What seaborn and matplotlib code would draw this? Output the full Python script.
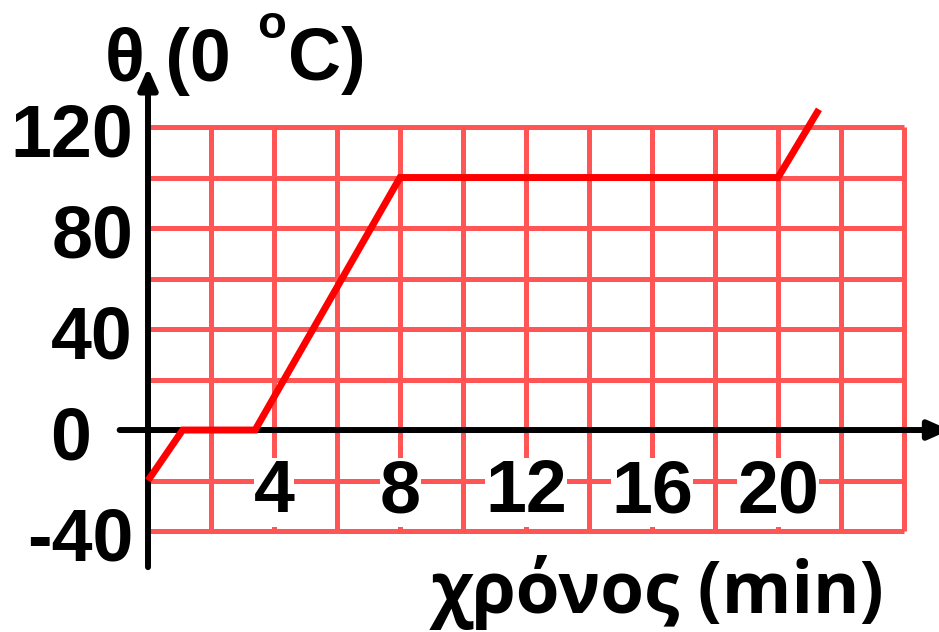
import matplotlib
matplotlib.use('Agg')
import numpy as np
import seaborn as sns
import matplotlib.pyplot as plt

# data
time_min = [0, 1.1, 3.4, 8, 20, 21.3]
temp_c = [-20, 0, 0, 100, 100, 127]
x_grid = list(range(0, 25, 2))
y_grid = list(range(-40, 121, 20))
x_ticks = [4, 8, 12, 16, 20]
y_ticks = [120, 80, 40, 0, -40]

sns.set_style('white')
plt.rcParams['font.family'] = ['Liberation Sans', 'DejaVu Sans']
plt.rcParams['font.weight'] = 'bold'
plt.rcParams['text.color'] = 'black'

W, H = 939, 632
fig = plt.figure(figsize=(W / 100, H / 100), dpi=100)
ax = fig.add_axes([116.5 / W, 1 - 568.9 / H, 825.3 / W, 505.0 / H])
ax.set_xlim(-1, 25.2)
ax.set_ylim(-55, 145)
ax.axis('off')

grid_col = '#ff5555'
ax.vlines(x_grid, y_grid[0], y_grid[-1], color=grid_col, lw=3.6, zorder=1)
ax.hlines(y_grid, x_grid[0], x_grid[-1], color=grid_col, lw=3.6, zorder=1)

# axes with arrows
arrow = dict(arrowstyle='-|>,head_length=0.9,head_width=0.4', color='black',
             lw=4.3, shrinkA=0, shrinkB=0, mutation_scale=14)
ax.annotate('', xy=(0, 143.5), xytext=(0, -54.3), annotation_clip=False,
            arrowprops=arrow, zorder=3)
ax.annotate('', xy=(25.45, 0), xytext=(-0.9, 0), annotation_clip=False,
            arrowprops=arrow, zorder=3)

sns.lineplot(x=time_min, y=temp_c, sort=False, color='#ff0000', lw=5,
             ax=ax, zorder=4)
ax.lines[-1].set_solid_capstyle('butt')
ax.lines[-1].set_solid_joinstyle('miter')

fs = 53
for t in x_ticks:
    ax.text(t, -32.5, str(t), ha='center', va='baseline', fontsize=fs,
            fontweight='bold', zorder=5,
            bbox=dict(facecolor='white', edgecolor='none', pad=0))
for v in y_ticks:
    if v == 0:
        ax.text(-3.11, v - 11.5, str(v), ha='left', va='baseline',
                fontsize=fs, fontweight='bold', clip_on=False)
    else:
        ax.text(-0.476, v - 11.5, str(v), ha='right', va='baseline',
                fontsize=fs, fontweight='bold', clip_on=False)

# axis titles
fig.text(105 / W, 1 - 81 / H, 'θ (0', fontsize=fs, fontweight='bold',
         ha='left', va='baseline')
fig.text(257 / W, 1 - 38 / H, 'o', fontsize=34, fontweight='bold',
         ha='left', va='baseline')
fig.text(288 / W, 1 - 80 / H, 'C)', fontsize=fs, fontweight='bold',
         ha='left', va='baseline')
fig.text(658 / W, 1 - 613 / H, 'χρόνος (min)', fontsize=51, fontweight='bold',
         family=['Open Sans', 'DejaVu Sans'], ha='center', va='baseline')

fig.savefig('out.png', dpi=100)
